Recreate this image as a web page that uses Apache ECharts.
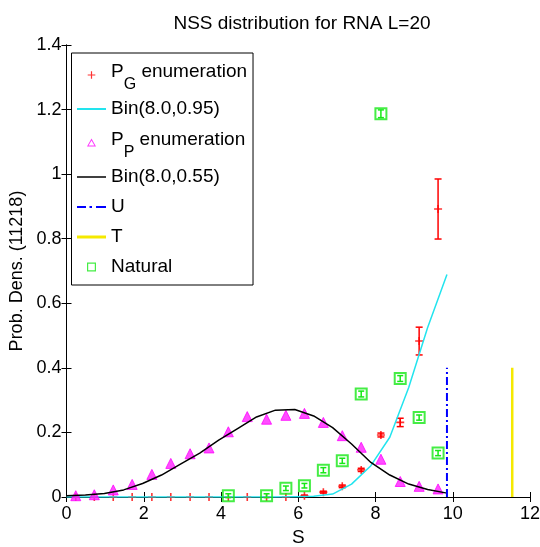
<!DOCTYPE html>
<html><head><meta charset="utf-8">
<script src="https://cdn.jsdelivr.net/npm/echarts@6/dist/echarts.min.js"></script>
<style>html,body{margin:0;padding:0;background:#fff}#c{width:540px;height:547px}</style>
</head><body><div id="c"></div>
<script>
const titleText = 'NSS distribution for RNA L=20';
const xTicks = [0, 2, 4, 6, 8, 10, 12];
const sPoints = [0.24,0.72,1.21,1.70,2.21,2.70,3.20,3.69,4.19,4.68,5.18,5.68,6.16,6.65,7.14,7.63,8.14,8.64,9.13,9.62];
const pgValues = [0,0,0,0,0,0,0,0,0,0,0,0,0.004,0.015,0.033,0.084,0.192,0.231,0.483,0.892];
const pgErrors = [0,0,0,0,0,0,0,0,0,0,0,0,0.002,0.003,0.004,0.005,0.006,0.013,0.043,0.093];
const ppValues = [0.004,0.007,0.022,0.039,0.070,0.104,0.134,0.152,0.202,0.249,0.241,0.253,0.259,0.231,0.190,0.154,0.117,0.048,0.033,0.025];
const lineX = [0,0.49,0.98,1.48,1.97,2.46,2.95,3.45,3.94,4.43,4.92,5.41,5.91,6.40,6.89,7.38,7.88,8.37,8.86,9.35,9.85];
const bin95 = [0,0,0,0,0,0,0,0,0,0,0,0,0.001,0.002,0.009,0.040,0.097,0.185,0.339,0.525,0.689];
const bin55 = [0.004,0.006,0.011,0.022,0.042,0.068,0.102,0.136,0.176,0.212,0.248,0.269,0.271,0.251,0.215,0.164,0.107,0.068,0.040,0.023,0.012];
const natX = [4.19,5.18,5.68,6.16,6.65,7.14,7.63,8.14,8.64,9.13,9.62];
const natValues = [0.004,0.004,0.027,0.035,0.083,0.112,0.319,1.187,0.367,0.246,0.136];
const natErrors = [0.006,0.006,0.007,0.007,0.008,0.008,0.009,0.012,0.009,0.008,0.008];
const uX = 9.85, tX = 11.54, markerTop = 0.4;

const F = 'Liberation Sans, Arial, Helvetica, sans-serif';
const zip = (xs, ys) => xs.map((x, i) => [x, ys[i]]);
const zip3 = (xs, ys, es) => xs.map((x, i) => [x, ys[i], es[i]]);
const plusPath = 'path://M-0.8,-4h1.6v3.2h3.2v1.6h-3.2v3.2h-1.6v-3.2h-3.2v-1.6h3.2z';
const PAD = 'M-14,-14M14,14';
const iconPlus = 'path://' + PAD + 'M-0.6,-3.8h1.2v3.2h3.2v1.2h-3.2v3.2h-1.2v-3.2h-3.2v-1.2h3.2z';
const iconTri = 'path://' + PAD + 'M0,-4.5L4.5,3.5L-4.5,3.5Z M0,-2.5L-2.9,2.5L2.9,2.5Z';
const iconSq = 'path://' + PAD + 'M-4.5,-4.5h9v9h-9z M-3.3,-3.3v6.6h6.6v-6.6z';
const iconLine = w => 'path://M0,0h29v' + w + 'h-29z';
const iconDashDot = 'path://M0,0h9v2h-9zM12.5,0h2.5v2h-2.5zM19,0h10v2h-10z';

function errRender(color, cap, lw) {
  return function (params, api) {
    const x = api.value(0), y = api.value(1), e = api.value(2);
    if (!e) return null;
    const hi = api.coord([x, y + e]), lo = api.coord([x, y - e]);
    const st = { stroke: color, lineWidth: lw };
    return { type: 'group', children: [
      { type: 'line', shape: { x1: hi[0], y1: hi[1], x2: lo[0], y2: lo[1] }, style: st },
      { type: 'line', shape: { x1: hi[0] - cap, y1: hi[1], x2: hi[0] + cap, y2: hi[1] }, style: st },
      { type: 'line', shape: { x1: lo[0] - cap, y1: lo[1], x2: lo[0] + cap, y2: lo[1] }, style: st }
    ]};
  };
}

const RED = '#ff0000', CYAN = '#22e4ee', MAG = '#ff00ff', BLUE = '#0000ff', YEL = '#f5e900', GRN = '#16e816';
const chart = echarts.init(document.getElementById('c'), null, { renderer: 'canvas' });
const axisCommon = {
  axisLine: { show: true, lineStyle: { color: '#000', width: 1 } },
  axisTick: { show: true, inside: true, length: 5, lineStyle: { color: '#000' } },
  splitLine: { show: false }
};
chart.setOption({
  animation: false,
  backgroundColor: '#fff',
  title: { text: titleText, left: 297, top: 9, textAlign: 'center',
    textStyle: { fontFamily: F, fontSize: 19, fontWeight: 'normal', color: '#000' } },
  grid: { left: 66.5, right: 10, top: 45, bottom: 50, containLabel: false, outerBoundsMode: 'none' },
  xAxis: [
    Object.assign({ type: 'value', min: 0, max: 12, interval: 2, name: 'S', nameLocation: 'middle', nameGap: 26,
      nameTextStyle: { fontFamily: F, fontSize: 19, color: '#000', verticalAlign: 'top' },
      axisLabel: { fontFamily: F, fontSize: 18, color: '#000', margin: 8,
        formatter: v => xTicks.includes(v) ? String(v) : '' } }, axisCommon),
    Object.assign({ type: 'value', min: 0, max: 12, interval: 2, position: 'top', axisLabel: { show: false } }, axisCommon)
  ],
  yAxis: [
    Object.assign({ type: 'value', min: 0, max: 1.4, interval: 0.2, name: 'Prob. Dens. (11218)', nameLocation: 'middle', nameGap: 28,
      nameTextStyle: { fontFamily: F, fontSize: 18, color: '#000' },
      axisLabel: { fontFamily: F, fontSize: 18, color: '#000', margin: 5 } }, axisCommon),
    Object.assign({ type: 'value', min: 0, max: 1.4, interval: 0.2, position: 'right', axisLabel: { show: false } }, axisCommon)
  ],
  legend: {
    orient: 'vertical', left: 71.5, top: 53,
    backgroundColor: '#fff', borderColor: '#000', borderWidth: 1,
    padding: [4, 6, 4, 5.5], itemGap: 2, itemWidth: 29, itemHeight: 28,
    textStyle: { fontFamily: F, fontSize: 19, color: '#000', lineHeight: 28,
      rich: { a: { fontFamily: F, fontSize: 19, color: '#000', lineHeight: 28, padding: [0, 0, 6, 0] },
              n: { fontFamily: F, fontSize: 19, color: '#000', lineHeight: 28 },
              s: { fontFamily: F, fontSize: 16, color: '#000', lineHeight: 16, padding: [20, 0, 0, 0] } } },
    formatter: function (name) {
      if (name === 'PG') return '{a|P}{s|G}{a| enumeration}';
      if (name === 'PP') return '{a|P}{s|P}{a| enumeration}';
      return '{n|' + name + '}';
    },
    data: [
      { name: 'PG', icon: iconPlus, itemStyle: { color: RED, borderWidth: 0 } },
      { name: 'Bin(8.0,0.95)', icon: iconLine(2), itemStyle: { color: CYAN, borderWidth: 0 } },
      { name: 'PP', icon: iconTri, itemStyle: { color: MAG, borderWidth: 0 } },
      { name: 'Bin(8.0,0.55)', icon: iconLine(1.5), itemStyle: { color: '#000', borderWidth: 0 } },
      { name: 'U', icon: iconDashDot, itemStyle: { color: BLUE, borderWidth: 0 } },
      { name: 'T', icon: iconLine(3), itemStyle: { color: YEL, borderWidth: 0 } },
      { name: 'Natural', icon: iconSq, itemStyle: { color: GRN, borderWidth: 0 } }
    ]
  },
  series: [
    { name: 'PG', type: 'scatter', data: zip(sPoints, pgValues), symbol: plusPath, symbolSize: 8,
      itemStyle: { color: RED }, z: 3 },
    { name: 'PGerr', type: 'custom', data: zip3(sPoints, pgValues, pgErrors), renderItem: errRender(RED, 3.5, 1.5), z: 3 },
    { name: 'Bin(8.0,0.95)', type: 'line', data: zip(lineX, bin95), symbol: 'none', lineStyle: { color: CYAN, width: 1.5 }, itemStyle: { color: CYAN }, z: 4 },
    { name: 'PP', type: 'scatter', data: zip(sPoints, ppValues), symbol: 'triangle', symbolSize: 10,
      itemStyle: { color: '#ff22ff', borderColor: MAG, borderWidth: 1 }, z: 5 },
    { name: 'Bin(8.0,0.55)', type: 'line', data: zip(lineX, bin55), symbol: 'none', lineStyle: { color: '#000', width: 1.5 }, itemStyle: { color: '#000' }, z: 6 },
    { name: 'U', type: 'line', data: [[uX, 0], [uX, markerTop]], symbol: 'none', lineStyle: { color: BLUE, width: 2, type: [8, 3, 2, 3] }, itemStyle: { color: BLUE }, z: 6 },
    { name: 'T', type: 'line', data: [[tX, 0], [tX, markerTop]], symbol: 'none', lineStyle: { color: YEL, width: 2.5 }, itemStyle: { color: YEL }, z: 6 },
    { name: 'Natural', type: 'scatter', data: zip(natX, natValues), symbol: 'rect', symbolSize: 11,
      itemStyle: { color: 'rgba(0,0,0,0)', borderColor: GRN, borderWidth: 2 }, z: 7 },
    { name: 'NatErr', type: 'custom', data: zip3(natX, natValues, natErrors), renderItem: errRender(GRN, 3, 1.5), z: 7 }
  ]
});
</script></body></html>
